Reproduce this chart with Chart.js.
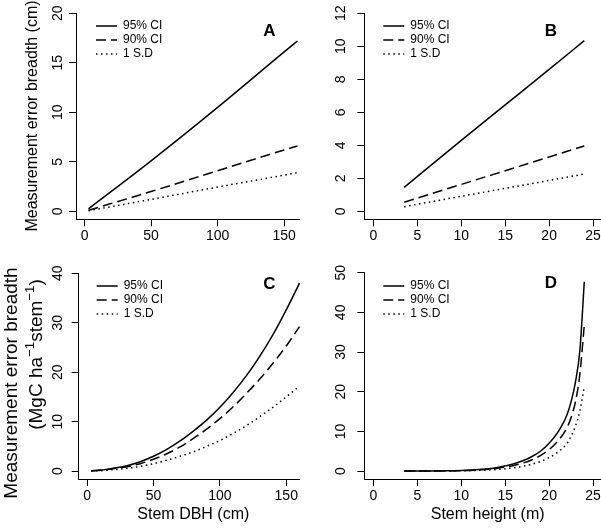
<!DOCTYPE html>
<html>
<head>
<meta charset="utf-8">
<script src="https://cdn.jsdelivr.net/npm/chart.js@4.4.1/dist/chart.umd.min.js"></script>
<style>
html, body { margin: 0; padding: 0; background: #fff; }
#fig { position: relative; width: 601px; height: 528px; overflow: hidden; }
.panel { position: absolute; overflow: hidden; }
.panel canvas { position: absolute; left: 0; top: 0; }
</style>
</head>
<body>
<div id="fig">
  <div class="panel" style="left:0;top:0;width:300px;height:260px"><canvas id="cA" width="306" height="260"></canvas></div>
  <div class="panel" style="left:300px;top:0;width:301px;height:260px"><canvas id="cB" width="311" height="260"></canvas></div>
  <div class="panel" style="left:0;top:260px;width:300px;height:268px"><canvas id="cC" width="308" height="268"></canvas></div>
  <div class="panel" style="left:300px;top:260px;width:301px;height:268px"><canvas id="cD" width="311" height="268"></canvas></div>
</div>
<script>
var FONT = '"Liberation Sans", Arial, Helvetica, sans-serif';
var seriesNames = ["95% CI", "90% CI", "1 S.D"];

// A: error breadth (cm) vs stem DBH
var dbhA = [3, 50, 100, 150, 160];
var a95 = [0.25, 5.1, 10.5, 16.1, 17.2];
var a90 = [0.1, 2.0, 4.1, 6.2, 6.6];
var aSD = [0.06, 1.2, 2.45, 3.65, 3.9];

// B: error breadth (cm) vs stem height
var htB = [3.5, 10, 15, 20, 24];
var b95 = [1.45, 4.3, 6.45, 8.6, 10.34];
var b90 = [0.55, 1.63, 2.46, 3.29, 3.96];
var bSD = [0.28, 0.91, 1.39, 1.87, 2.26];

// C: error breadth (MgC) vs stem DBH
var dbhC = [3, 10, 20, 30, 40, 50, 60, 70, 80, 90, 100, 110, 120, 130, 140, 150, 160];
var c95 = [0.05, 0.2, 0.6, 1.1, 1.9, 3.0, 4.4, 6.1, 8.1, 10.3, 12.9, 15.9, 19.3, 23.2, 27.6, 32.6, 38.0];
var c90 = [0.04, 0.15, 0.5, 0.9, 1.5, 2.4, 3.5, 4.9, 6.6, 8.5, 10.6, 13.0, 15.7, 18.6, 21.8, 25.3, 29.2];
var cSD = [0.02, 0.08, 0.3, 0.55, 0.95, 1.5, 2.2, 3.0, 3.9, 5.0, 6.2, 7.6, 9.2, 11.0, 12.9, 15.0, 17.2];

// D: error breadth (MgC) vs stem height
var htD = [3.5, 6, 8, 10, 12, 14, 15, 16, 17, 18, 19, 20, 21, 22, 22.5, 23, 23.5, 24];
var d95 = [0, 0.02, 0.05, 0.15, 0.38, 0.85, 1.3, 1.85, 2.6, 3.6, 5.0, 7.0, 9.8, 14.0, 17.5, 22.5, 30.5, 47.7];
var d90 = [0, 0.015, 0.04, 0.12, 0.3, 0.66, 0.98, 1.4, 2.0, 2.8, 3.9, 5.4, 7.6, 10.8, 13.5, 17.5, 24.5, 36.8];
var dSD = [0, 0.01, 0.025, 0.07, 0.18, 0.4, 0.6, 0.85, 1.2, 1.7, 2.4, 3.4, 4.8, 6.9, 8.8, 11.4, 15.2, 21.3];

// tick labels
var ticksDbh = [0, 50, 100, 150];
var ticksHt = [0, 5, 10, 15, 20, 25];
var ticksA = [0, 5, 10, 15, 20];
var ticksB = [0, 2, 4, 6, 8, 10, 12];
var ticksC = [0, 10, 20, 30, 40];
var ticksD = [0, 10, 20, 30, 40, 50];

var dashes = [[], [10, 5], [1.5, 3.5]];

// R-style extras: rotated y tick labels, panel letter, legend, y title
var decor = {
  id: 'decor',
  afterDraw: function (chart, args, o) {
    var ctx = chart.ctx;
    var ys = chart.scales.y;
    ctx.save();
    ctx.fillStyle = '#000';
    ctx.font = '14px ' + FONT;
    ctx.textAlign = 'center';
    ctx.textBaseline = 'middle';
    ys.ticks.forEach(function (t) {
      ctx.save();
      ctx.translate(o.tickX, ys.getPixelForValue(t.value));
      ctx.rotate(-Math.PI / 2);
      ctx.fillText(String(t.value), 0, 0);
      ctx.restore();
    });

    ctx.font = 'bold 17px ' + FONT;
    ctx.fillText(o.letter, o.letterX, o.letterY);

    ctx.font = '12px ' + FONT;
    ctx.textAlign = 'left';
    chart.data.datasets.forEach(function (ds, i) {
      var ly = o.legY + i * 14;
      ctx.strokeStyle = ds.borderColor;
      ctx.lineWidth = ds.borderWidth;
      ctx.setLineDash(ds.borderDash);
      ctx.beginPath();
      ctx.moveTo(o.legX, ly);
      ctx.lineTo(o.legX + 21, ly);
      ctx.stroke();
      ctx.fillText(ds.label, o.legX + 27, ly);
    });
    ctx.setLineDash([]);

    (o.yTitle || []).forEach(function (line) {
      ctx.save();
      ctx.translate(line.x, line.y);
      ctx.rotate(-Math.PI / 2);
      ctx.textBaseline = 'alphabetic';
      var total = 0;
      line.parts.forEach(function (p) {
        ctx.font = (p[1] ? line.size * 0.7 : line.size) + 'px ' + FONT;
        total += ctx.measureText(p[0]).width;
      });
      var cx = -total / 2;
      line.parts.forEach(function (p) {
        ctx.font = (p[1] ? line.size * 0.7 : line.size) + 'px ' + FONT;
        ctx.fillText(p[0], cx, p[1] ? -line.size * 0.42 : 0);
        cx += ctx.measureText(p[0]).width;
      });
      ctx.restore();
    });
    ctx.restore();
  }
};

function axisStyle() {
  return {
    grid: { drawOnChartArea: false, drawTicks: true, tickLength: 7, color: '#000', lineWidth: 1 },
    border: { display: true, color: '#000', width: 1 }
  };
}

function makePanel(id, xs, ys, o) {
  var datasets = ys.map(function (vals, i) {
    return {
      label: seriesNames[i],
      data: xs.map(function (x, j) { return { x: x, y: vals[j] }; }),
      borderColor: '#000',
      borderWidth: 1.5,
      borderDash: dashes[i],
      pointRadius: 0,
      fill: false,
      cubicInterpolationMode: 'monotone'
    };
  });
  var xAxis = axisStyle();
  var yAxis = axisStyle();
  Object.assign(xAxis, {
    type: 'linear', min: o.xMin, max: o.xMax,
    afterBuildTicks: function (s) { s.ticks = o.xTicks.map(function (v) { return { value: v }; }); },
    afterFit: function (s) { s.height = o.xH; },
    ticks: { color: '#000', font: { family: FONT, size: 14 }, padding: 1.5, maxRotation: 0, autoSkip: false },
    title: o.xTitle ? { display: true, text: o.xTitle, color: '#000', font: { family: FONT, size: 16 }, padding: { top: 0, bottom: 3.4 } } : { display: false }
  });
  Object.assign(yAxis, {
    type: 'linear', min: o.yMin, max: o.yMax,
    afterBuildTicks: function (s) { s.ticks = o.yTicks.map(function (v) { return { value: v }; }); },
    afterFit: function (s) { s.width = o.yW; },
    ticks: { display: false }
  });
  new Chart(document.getElementById(id), {
    type: 'line',
    data: { datasets: datasets },
    options: {
      responsive: false,
      animation: false,
      layout: { padding: { top: o.top, left: 0, right: 0, bottom: 0 } },
      plugins: { legend: { display: false }, tooltip: { enabled: false }, decor: o.decor },
      scales: { x: xAxis, y: yAxis }
    },
    plugins: [decor]
  });
}

makePanel('cA', dbhA, [a95, a90, aSD], {
  top: 13.3, yW: 76, xH: 40.7, xMin: -6.4, xMax: 166.4, yMin: -0.808, yMax: 20,
  xTicks: ticksDbh, yTicks: ticksA,
  decor: { tickX: 58, letter: 'A', letterX: 269.5, letterY: 31, legX: 96, legY: 26,
    yTitle: [{ x: 37, y: 116, size: 16, parts: [['Measurement error breadth (cm)', false]] }] }
});

makePanel('cB', htB, [b95, b90, bSD], {
  top: 13.3, yW: 64.3, xH: 40.7, xMin: -1.04, xMax: 27.04, yMin: -0.485, yMax: 12,
  xTicks: ticksHt, yTicks: ticksB,
  decor: { tickX: 41, letter: 'B', letterX: 251, letterY: 31, legX: 83.3, legY: 26 }
});

makePanel('cC', dbhC, [c95, c90, cSD], {
  top: 13.3, yW: 78.7, xH: 49, xMin: -6.4, xMax: 166.4, yMin: -1.6, yMax: 40,
  xTicks: ticksDbh, yTicks: ticksC, xTitle: 'Stem DBH (cm)',
  decor: { tickX: 58.3, letter: 'C', letterX: 269.5, letterY: 24, legX: 96.7, legY: 26,
    yTitle: [
      { x: 16.7, y: 123, size: 19, parts: [['Measurement error breadth', false]] },
      { x: 42, y: 94.5, size: 19, parts: [['(MgC ha', false], ['\u22121', true], ['stem', false], ['\u22121', true], [')', false]] }
    ] }
});

makePanel('cD', htD, [d95, d90, dSD], {
  top: 12.7, yW: 64.3, xH: 49, xMin: -1.04, xMax: 27.04, yMin: -2, yMax: 50,
  xTicks: ticksHt, yTicks: ticksD, xTitle: 'Stem height (m)',
  decor: { tickX: 41, letter: 'D', letterX: 251, letterY: 23.5, legX: 83.3, legY: 26 }
});
</script>
</body>
</html>
